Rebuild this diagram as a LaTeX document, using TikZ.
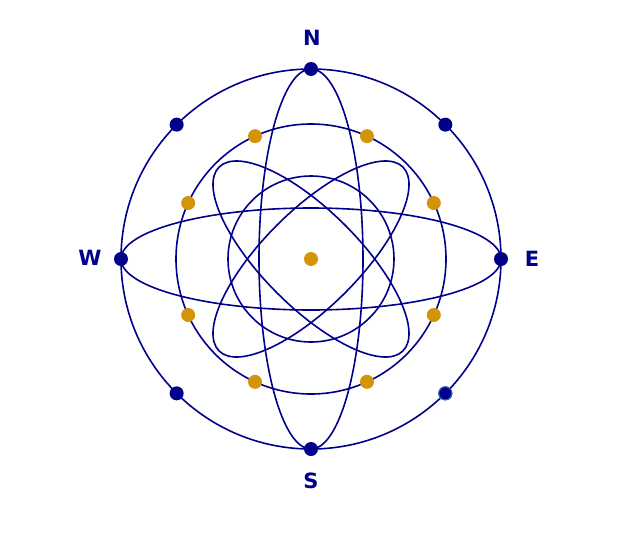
\documentclass[tikz,border=0pt]{standalone}
\usepackage{fontspec}
\setmainfont{DejaVu Sans}
\usetikzlibrary{calc}
\definecolor{navy}{RGB}{0,0,139}
\definecolor{dotblue}{RGB}{0,0,136}
\definecolor{gold}{RGB}{212,148,10}
\definecolor{rimblue}{RGB}{30,100,190}
\begin{document}
\begin{tikzpicture}[x=1pt,y=-1pt,
  orbit/.style={draw=navy,line width=1.6pt},
  bdot/.style={circle,fill=dotblue,inner sep=0pt,minimum size=14pt},
  ydot/.style={circle,fill=gold,inner sep=0pt,minimum size=14pt},
  lab/.style={text=navy,font=\bfseries\fontsize{21}{21}\selectfont,inner sep=0pt}]
\useasboundingbox (0,0) rectangle (638,536);
\coordinate (c) at (311,259);
% circles
\draw[orbit] (c) circle[radius=190];
\draw[orbit] (c) circle[radius=135];
\draw[orbit] (c) circle[radius=83];
% ellipses
\draw[orbit] (c) ellipse[x radius=52,y radius=190];
\draw[orbit] (c) ellipse[x radius=190,y radius=51];
\draw[orbit,rotate around={45:(c)}] (c) ellipse[x radius=130,y radius=48];
\draw[orbit,rotate around={-45:(c)}] (c) ellipse[x radius=130,y radius=48];
% outer blue dots
\foreach \a/\n in {0/e,45/se,90/s,135/sw,180/w,225/nw,270/n,315/ne}{
  \node[bdot] (o\n) at ($(c)+(\a:190)$) {};
}
\node[bdot,draw=rimblue,line width=1pt,minimum size=13pt] at (ose) {};
% gold dots
\foreach \a [count=\i] in {24.5,65.5,114.5,155.5,204.5,245.5,294.5,335.5}{
  \node[ydot] (y\i) at ($(c)+(\a:135)$) {};
}
\node[ydot] (ctr) at (c) {};
% labels
\node[lab] (ln) at (312,38) {N};
\node[lab] (lw) at (90,258) {W};
\node[lab] (le) at (532,259) {E};
\node[lab] (ls) at (311,481) {S};
\end{tikzpicture}
\end{document}
